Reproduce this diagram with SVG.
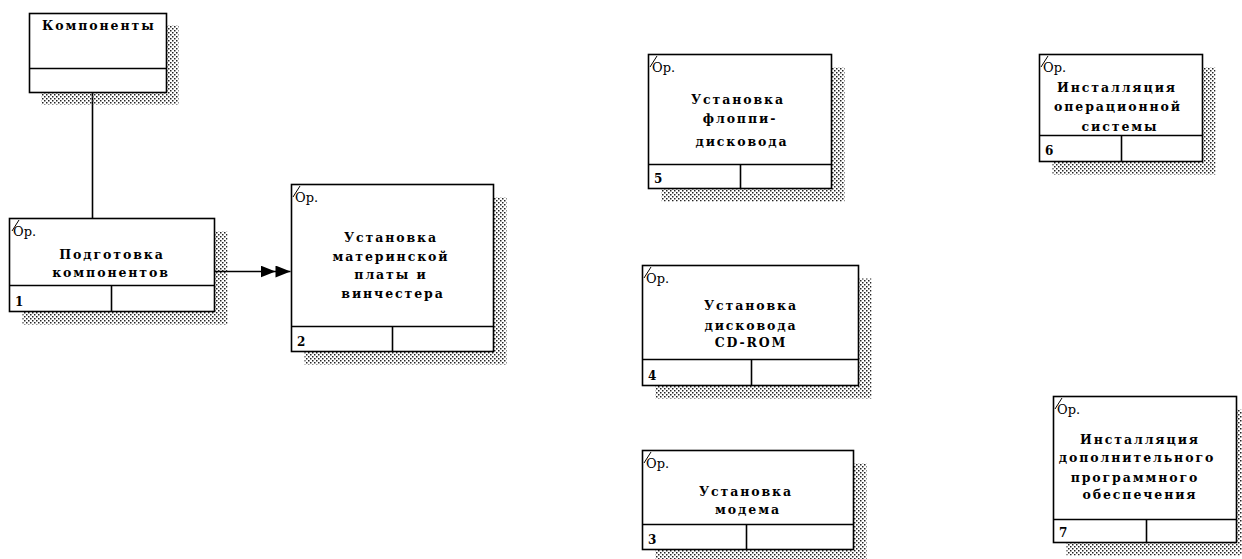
<svg xmlns="http://www.w3.org/2000/svg" width="1242" height="559" viewBox="0 0 1242 559">
<style>
.box{fill:#fff;stroke:#000;stroke-width:1.6}
.ln{stroke:#000;stroke-width:1.6;fill:none}
.sh{fill:url(#hatch)}
.t{font-family:"DejaVu Serif","Liberation Serif",serif;font-size:12.5px;font-weight:bold;letter-spacing:1.9px;text-anchor:middle;fill:#000}
.op{font-family:"DejaVu Serif","Liberation Serif",serif;font-size:13px;fill:#000}
.num{font-family:"DejaVu Serif","Liberation Serif",serif;font-size:12px;font-weight:bold;fill:#000}
.sl{stroke:#000;stroke-width:1;fill:none}
</style>
<defs>
<pattern id="hatch" width="4" height="4" patternUnits="userSpaceOnUse">
<rect x="0" y="0" width="1.5" height="1.5" fill="#222"/>
<rect x="2" y="2" width="1.5" height="1.5" fill="#222"/>
</pattern>
<marker id="dbl" viewBox="0 0 30 12" refX="30" refY="6" markerWidth="30" markerHeight="12" markerUnits="userSpaceOnUse" orient="auto">
<path d="M0,0 L15,6 L0,12 Z M15,0 L30,6 L15,12 Z" fill="#000"/>
</marker>
</defs>
<g id="connectors">
<line class="ln" x1="92.5" y1="92.5" x2="92.5" y2="218.5"/>
<line class="ln" x1="214.5" y1="271.5" x2="290.5" y2="271.5" marker-end="url(#dbl)"/>
</g>
<g id="node-components">
<rect class="sh" x="41.5" y="25.5" width="137" height="79"/>
<rect class="box" x="29.5" y="13.5" width="137" height="79"/>
<line class="ln" x1="29.5" y1="68.5" x2="166.5" y2="68.5"/>
<text class="t" x="42" y="30" style="text-anchor:start" letter-spacing="1.4">Компоненты</text>
</g>
<g id="node-1">
<rect class="sh" x="22.5" y="231.5" width="205" height="93"/>
<rect class="box" x="9.5" y="218.5" width="205" height="93"/>
<line class="ln" x1="9.5" y1="285.5" x2="214.5" y2="285.5"/>
<line class="ln" x1="111.5" y1="285.5" x2="111.5" y2="311.5"/>
<line class="sl" x1="12" y1="231" x2="19" y2="220"/>
<text class="op" x="13" y="236">Ор.</text>
<text class="t" x="112" y="259">Подготовка</text>
<text class="t" x="111" y="277">компонентов</text>
<text class="num" x="15" y="306">1</text>
</g>
<g id="node-2">
<rect class="sh" x="304.5" y="197.5" width="202" height="167"/>
<rect class="box" x="291.5" y="184.5" width="202" height="167"/>
<line class="ln" x1="291.5" y1="326.5" x2="493.5" y2="326.5"/>
<line class="ln" x1="392.5" y1="326.5" x2="392.5" y2="351.5"/>
<line class="sl" x1="293" y1="197" x2="300" y2="186"/>
<text class="op" x="295" y="202">Ор.</text>
<text class="t" x="391" y="242">Установка</text>
<text class="t" x="391" y="261">материнской</text>
<text class="t" x="391" y="279">платы и</text>
<text class="t" x="393" y="298">винчестера</text>
<text class="num" x="297" y="346">2</text>
</g>
<g id="node-5">
<rect class="sh" x="661.5" y="67.5" width="183" height="134"/>
<rect class="box" x="648.5" y="54.5" width="183" height="134"/>
<line class="ln" x1="648.5" y1="164.5" x2="831.5" y2="164.5"/>
<line class="ln" x1="740.5" y1="164.5" x2="740.5" y2="188.5"/>
<line class="sl" x1="650" y1="67" x2="657" y2="56"/>
<text class="op" x="652" y="72">Ор.</text>
<text class="t" x="738" y="104">Установка</text>
<text class="t" x="740" y="123">флоппи-</text>
<text class="t" x="742" y="146">дисковода</text>
<text class="num" x="654" y="183">5</text>
</g>
<g id="node-4">
<rect class="sh" x="655.5" y="278.5" width="216" height="120"/>
<rect class="box" x="642.5" y="265.5" width="216" height="120"/>
<line class="ln" x1="642.5" y1="359.5" x2="858.5" y2="359.5"/>
<line class="ln" x1="751.5" y1="359.5" x2="751.5" y2="385.5"/>
<line class="sl" x1="644" y1="278" x2="651" y2="267"/>
<text class="op" x="646" y="283">Ор.</text>
<text class="t" x="751" y="310">Установка</text>
<text class="t" x="751" y="330">дисковода</text>
<text class="t" x="751" y="347">CD-ROM</text>
<text class="num" x="648" y="380">4</text>
</g>
<g id="node-3">
<rect class="sh" x="655.5" y="463.5" width="211" height="99"/>
<rect class="box" x="642.5" y="450.5" width="211" height="99"/>
<line class="ln" x1="642.5" y1="524.5" x2="853.5" y2="524.5"/>
<line class="ln" x1="746.5" y1="524.5" x2="746.5" y2="549.5"/>
<line class="sl" x1="644" y1="463" x2="651" y2="452"/>
<text class="op" x="646" y="468">Ор.</text>
<text class="t" x="746" y="496">Установка</text>
<text class="t" x="748" y="514">модема</text>
<text class="num" x="648" y="544">3</text>
</g>
<g id="node-6">
<rect class="sh" x="1052.5" y="67.5" width="163" height="107"/>
<rect class="box" x="1039.5" y="54.5" width="163" height="107"/>
<line class="ln" x1="1039.5" y1="135.5" x2="1202.5" y2="135.5"/>
<line class="ln" x1="1121.5" y1="135.5" x2="1121.5" y2="161.5"/>
<line class="sl" x1="1041" y1="67" x2="1048" y2="56"/>
<text class="op" x="1043" y="72">Ор.</text>
<text class="t" x="1117" y="92">Инсталляция</text>
<text class="t" x="1118" y="111">операционной</text>
<text class="t" x="1120" y="131">системы</text>
<text class="num" x="1045" y="155">6</text>
</g>
<g id="node-7">
<rect class="sh" x="1066.5" y="409.5" width="183" height="146"/>
<rect class="box" x="1053.5" y="396.5" width="183" height="146"/>
<line class="ln" x1="1053.5" y1="519.5" x2="1236.5" y2="519.5"/>
<line class="ln" x1="1146.5" y1="519.5" x2="1146.5" y2="542.5"/>
<line class="sl" x1="1055" y1="409" x2="1062" y2="398"/>
<text class="op" x="1057" y="414">Ор.</text>
<text class="t" x="1140" y="444">Инсталляция</text>
<text class="t" x="1137" y="462">дополнительного</text>
<text class="t" x="1135" y="482">программного</text>
<text class="t" x="1140" y="499">обеспечения</text>
<text class="num" x="1059" y="537">7</text>
</g>
</svg>
